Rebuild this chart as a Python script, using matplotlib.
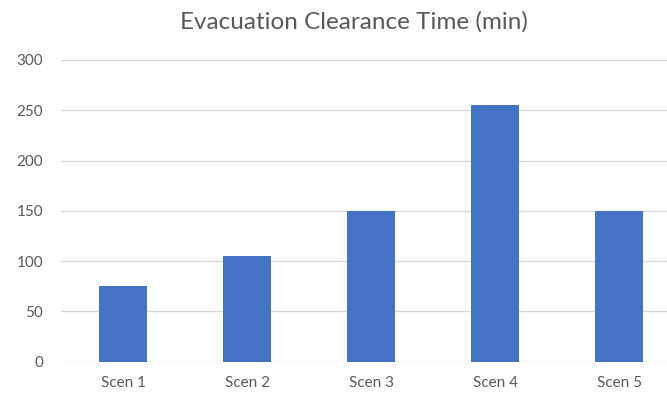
import matplotlib.pyplot as plt

scenarios = ['Scen 1', 'Scen 2', 'Scen 3', 'Scen 4', 'Scen 5']
clearance_min = [75, 105, 150, 255, 150]

plt.rcParams['font.family'] = ['Lato', 'DejaVu Sans']

fig = plt.figure(figsize=(6.67, 3.93), dpi=100)
ax = fig.add_axes([0.0915, 0.0797, 0.9295, 0.7677])

ax.bar(scenarios, clearance_min, width=0.39, color='#4472C4', zorder=3)

ax.set_ylim(0, 300)
ax.set_xlim(-0.5, len(scenarios) - 0.5)
ax.set_yticks(range(0, 301, 50))
ax.grid(axis='y', color='#d9d9d9', linewidth=1, zorder=0)
for s in ax.spines.values():
    s.set_visible(False)
ax.tick_params(axis='both', length=0, labelsize=11, labelcolor='#595959')
ax.tick_params(axis='y', pad=13)
ax.tick_params(axis='x', pad=10)

fig.text(0.531, 0.944, 'Evacuation Clearance Time (min)', ha='center', va='center',
         fontsize=17.5, color='#595959')

fig.savefig('out.png', dpi=100)
